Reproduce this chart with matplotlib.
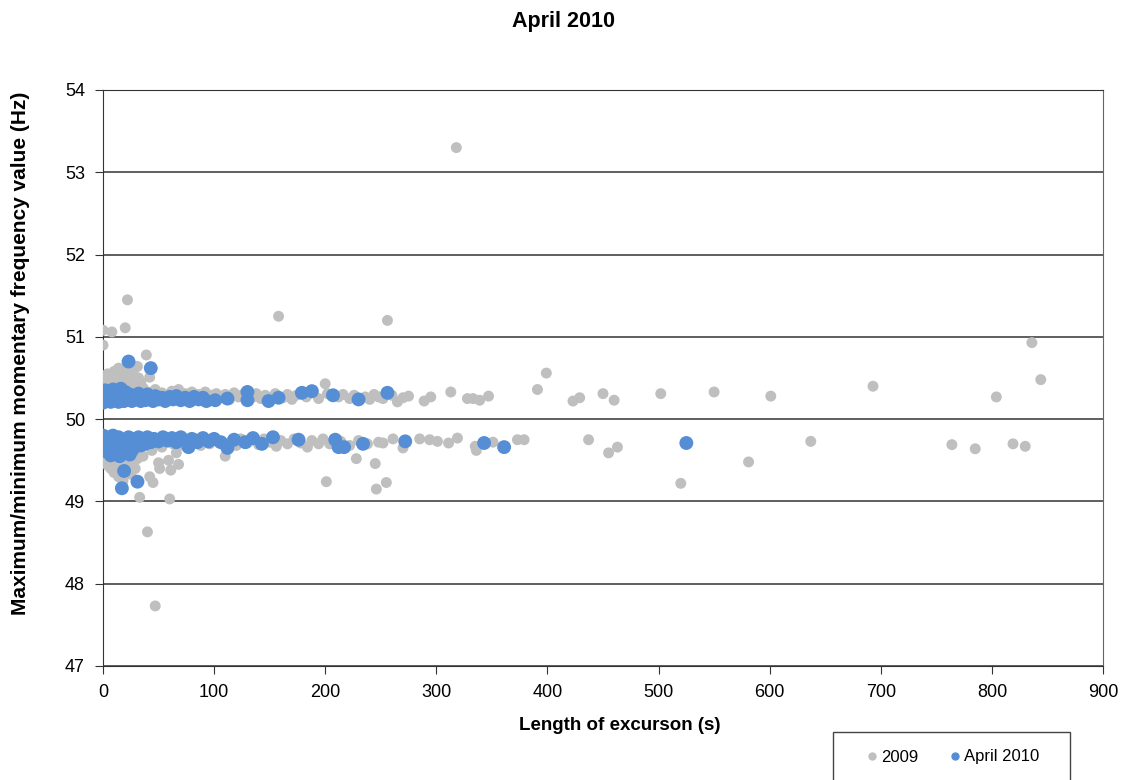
import numpy as np
import matplotlib
matplotlib.use("Agg")
import matplotlib.pyplot as plt
from matplotlib.lines import Line2D
from matplotlib.patches import Rectangle

plt.rcParams['font.family'] = ['Liberation Sans', 'DejaVu Sans']

# 2009 excursions - upper band (max frequency)
gray_up_x = [0, 1, 2, 3, 4, 5, 6, 7, 8, 9, 10, 11, 12, 13, 14, 15, 16, 17, 18, 19,
             20, 21, 22, 23, 24, 25, 26, 27, 28, 29, 30, 31, 32, 33, 34, 35, 36, 38,
             40, 42, 44, 47, 50, 53, 56, 59, 62, 65, 68, 71, 74, 77, 80, 83, 86, 89,
             92, 95, 98, 102, 106, 110, 114, 118, 122, 126, 134, 138, 142, 146, 155,
             162, 166, 170, 174, 183, 186, 194, 200, 202, 212, 216, 222, 226, 236,
             240, 244, 248, 252, 260, 265, 270, 275, 289, 295, 313, 328, 333, 339,
             347, 391, 399, 423, 429, 450, 460, 502, 550, 601, 693, 804, 836, 844]
gray_up_y = [50.22, 50.35, 50.48, 50.28, 50.55, 50.40, 50.31, 50.50, 50.44, 50.26,
             50.58, 50.38, 50.47, 50.33, 50.62, 50.52, 50.42, 50.29, 50.56, 50.36,
             50.46, 50.60, 50.40, 50.30, 50.52, 50.44, 50.35, 50.58, 50.48, 50.32,
             50.40, 50.64, 50.50, 50.36, 50.45, 50.30, 50.38, 50.28, 50.33, 50.51,
             50.29, 50.36, 50.27, 50.32, 50.25, 50.30, 50.34, 50.27, 50.36, 50.24,
             50.31, 50.28, 50.33, 50.25, 50.30, 50.27, 50.33, 50.24, 50.29, 50.31,
             50.26, 50.30, 50.24, 50.32, 50.27, 50.30, 50.26, 50.31, 50.25, 50.29,
             50.31, 50.26, 50.30, 50.24, 50.29, 50.27, 50.31, 50.25, 50.43, 50.31,
             50.27, 50.30, 50.25, 50.29, 50.27, 50.24, 50.30, 50.27, 50.25, 50.29,
             50.21, 50.26, 50.28, 50.22, 50.27, 50.33, 50.25, 50.25, 50.23, 50.28,
             50.36, 50.56, 50.22, 50.26, 50.31, 50.23, 50.31, 50.33, 50.28, 50.40,
             50.27, 50.93, 50.48]

# 2009 excursions - lower band (min frequency)
gray_lo_x = [0, 1, 2, 3, 4, 5, 6, 7, 8, 9, 10, 11, 12, 13, 14, 15, 16, 17, 18, 19,
             20, 21, 22, 23, 24, 25, 26, 27, 28, 29, 30, 31, 33, 34, 36, 38, 40, 42,
             44, 45, 47, 48, 50, 51, 53, 56, 59, 60, 61, 63, 66, 68, 70, 73, 76, 80,
             84, 88, 92, 96, 100, 104, 110, 112, 116, 120, 124, 130, 136, 140, 145,
             150, 156, 160, 166, 172, 178, 184, 188, 194, 198, 201, 204, 214, 222,
             228, 230, 238, 245, 246, 248, 252, 255, 261, 270, 285, 294, 301, 311,
             319, 335, 336, 351, 373, 379, 437, 455, 463, 520, 581, 637, 764, 785,
             819, 830]
gray_lo_y = [49.80, 49.62, 49.50, 49.72, 49.44, 49.58, 49.68, 49.40, 49.52, 49.75,
             49.35, 49.60, 49.47, 49.66, 49.30, 49.55, 49.42, 49.70, 49.25, 49.50,
             49.62, 49.38, 49.56, 49.45, 49.68, 49.33, 49.58, 49.48, 49.72, 49.40,
             49.60, 49.52, 49.05, 49.66, 49.55, 49.70, 48.63, 49.30, 49.62, 49.23,
             47.73, 49.72, 49.47, 49.40, 49.66, 49.74, 49.50, 49.03, 49.38, 49.70,
             49.59, 49.45, 49.76, 49.68, 49.73, 49.70, 49.76, 49.68, 49.74, 49.70,
             49.76, 49.72, 49.55, 49.70, 49.74, 49.68, 49.76, 49.71, 49.74, 49.69,
             49.76, 49.72, 49.67, 49.74, 49.70, 49.76, 49.71, 49.66, 49.74, 49.70,
             49.76, 49.24, 49.70, 49.73, 49.68, 49.52, 49.74, 49.70, 49.46, 49.15,
             49.72, 49.71, 49.23, 49.76, 49.65, 49.76, 49.75, 49.73, 49.71, 49.77,
             49.67, 49.62, 49.72, 49.75, 49.75, 49.75, 49.59, 49.66, 49.22, 49.48,
             49.73, 49.69, 49.64, 49.70, 49.67]

# 2009 high outliers
gray_out_x = [0, 8, 0, 20, 22, 39, 158, 256, 318]
gray_out_y = [51.08, 51.06, 50.90, 51.11, 51.45, 50.78, 51.25, 51.20, 53.30]

# April 2010 - upper band
blue_up_x = [0, 1, 2, 3, 4, 5, 6, 7, 8, 9, 10, 11, 12, 13, 14, 15, 16, 17, 18, 19,
             20, 22, 23, 24, 26, 28, 30, 32, 34, 36, 38, 40, 42, 43, 45, 47, 50, 53,
             56, 60, 63, 66, 70, 74, 78, 82, 86, 90, 93, 101, 112, 130, 130, 149,
             158, 179, 188, 207, 230, 256]
blue_up_y = [50.20, 50.28, 50.35, 50.22, 50.30, 50.24, 50.33, 50.21, 50.28, 50.36,
             50.23, 50.31, 50.25, 50.34, 50.21, 50.29, 50.37, 50.24, 50.31, 50.22,
             50.33, 50.26, 50.70, 50.30, 50.22, 50.28, 50.24, 50.31, 50.22, 50.27,
             50.23, 50.30, 50.25, 50.62, 50.22, 50.28, 50.24, 50.26, 50.22, 50.27,
             50.24, 50.28, 50.23, 50.26, 50.22, 50.27, 50.24, 50.26, 50.22, 50.23,
             50.25, 50.33, 50.23, 50.22, 50.26, 50.32, 50.34, 50.29, 50.24, 50.32]

# April 2010 - lower band
blue_lo_x = [0, 1, 2, 3, 4, 5, 6, 7, 8, 9, 10, 11, 12, 13, 14, 15, 16, 17, 18, 19,
             20, 21, 22, 23, 24, 25, 26, 27, 28, 30, 31, 32, 34, 36, 38, 40, 43, 46,
             50, 54, 58, 62, 66, 70, 74, 77, 80, 85, 90, 95, 100, 106, 112, 118, 128,
             135, 143, 153, 176, 209, 212, 217, 234, 272, 343, 361, 525]
blue_lo_y = [49.80, 49.72, 49.65, 49.78, 49.60, 49.70, 49.76, 49.56, 49.68, 49.80,
             49.62, 49.74, 49.58, 49.70, 49.78, 49.55, 49.66, 49.16, 49.75, 49.37,
             49.60, 49.72, 49.64, 49.78, 49.57, 49.70, 49.62, 49.76, 49.66, 49.72,
             49.24, 49.78, 49.68, 49.74, 49.70, 49.78, 49.72, 49.76, 49.73, 49.78,
             49.74, 49.77, 49.72, 49.78, 49.74, 49.66, 49.76, 49.72, 49.77, 49.73,
             49.76, 49.72, 49.65, 49.75, 49.72, 49.77, 49.70, 49.78, 49.75, 49.75,
             49.66, 49.66, 49.70, 49.73, 49.71, 49.66, 49.71]

x_2009 = gray_up_x + gray_lo_x + gray_out_x
y_2009 = gray_up_y + gray_lo_y + gray_out_y
x_2010 = blue_up_x + blue_lo_x
y_2010 = blue_up_y + blue_lo_y

gray = '#BFBFBF'
blue = '#558ED5'
W, H = 1126, 780

fig = plt.figure(figsize=(W / 100, H / 100), dpi=100)
ax = fig.add_axes([103 / W, 1 - 666 / H, 1000 / W, 576 / H])

ax.scatter(x_2009, y_2009, s=62, color=gray, edgecolors='none', zorder=3)
ax.scatter(x_2010, y_2010, s=100, color=blue, edgecolors='none', zorder=4)

ax.set_xlim(0, 900)
ax.set_ylim(47, 54)
ax.set_xticks(np.arange(0, 901, 100))
ax.set_yticks(np.arange(47, 55, 1))
ax.grid(axis='y', color='#333333', linewidth=1.1, zorder=1)
for s in ax.spines.values():
    s.set_color('#333333')
ax.spines['right'].set_color('#666666')
ax.tick_params(direction='out', length=6, color='#333333', labelsize=13, pad=7)

# axis titles and chart title placed like the Excel original
fig.text(620 / W, 1 - 725 / H, 'Length of excurson (s)', fontsize=13.5,
         fontweight='bold', ha='center', va='center')
fig.text(21 / W, 1 - 353 / H, 'Maximum/minimum momentary frequency value (Hz)',
         fontsize=15, fontweight='bold', rotation=90, ha='center', va='center')
fig.text(563 / W, 1 - 21 / H, 'April 2010', fontsize=15.5, fontweight='bold',
         ha='center', va='center')

# legend box at the bottom right (runs off the bottom edge)
fig.patches.append(Rectangle((833 / W, 1 - 792 / H), 237 / W, 60 / H,
                             transform=fig.transFigure, fill=False,
                             edgecolor='#444444', linewidth=1))
handles = [Line2D([], [], marker='o', linestyle='none', color=gray, markersize=6,
                  markeredgewidth=0),
           Line2D([], [], marker='o', linestyle='none', color=blue, markersize=6,
                  markeredgewidth=0)]
fig.legend(handles, ['2009', 'April 2010'], loc='center left',
           bbox_to_anchor=(867.5 / W, 1 - 757 / H), ncol=2, fontsize=12,
           frameon=False, borderpad=0, borderaxespad=0, handlelength=0.5,
           handletextpad=0.34, columnspacing=1.9)

fig.savefig('out.png', dpi=100)
